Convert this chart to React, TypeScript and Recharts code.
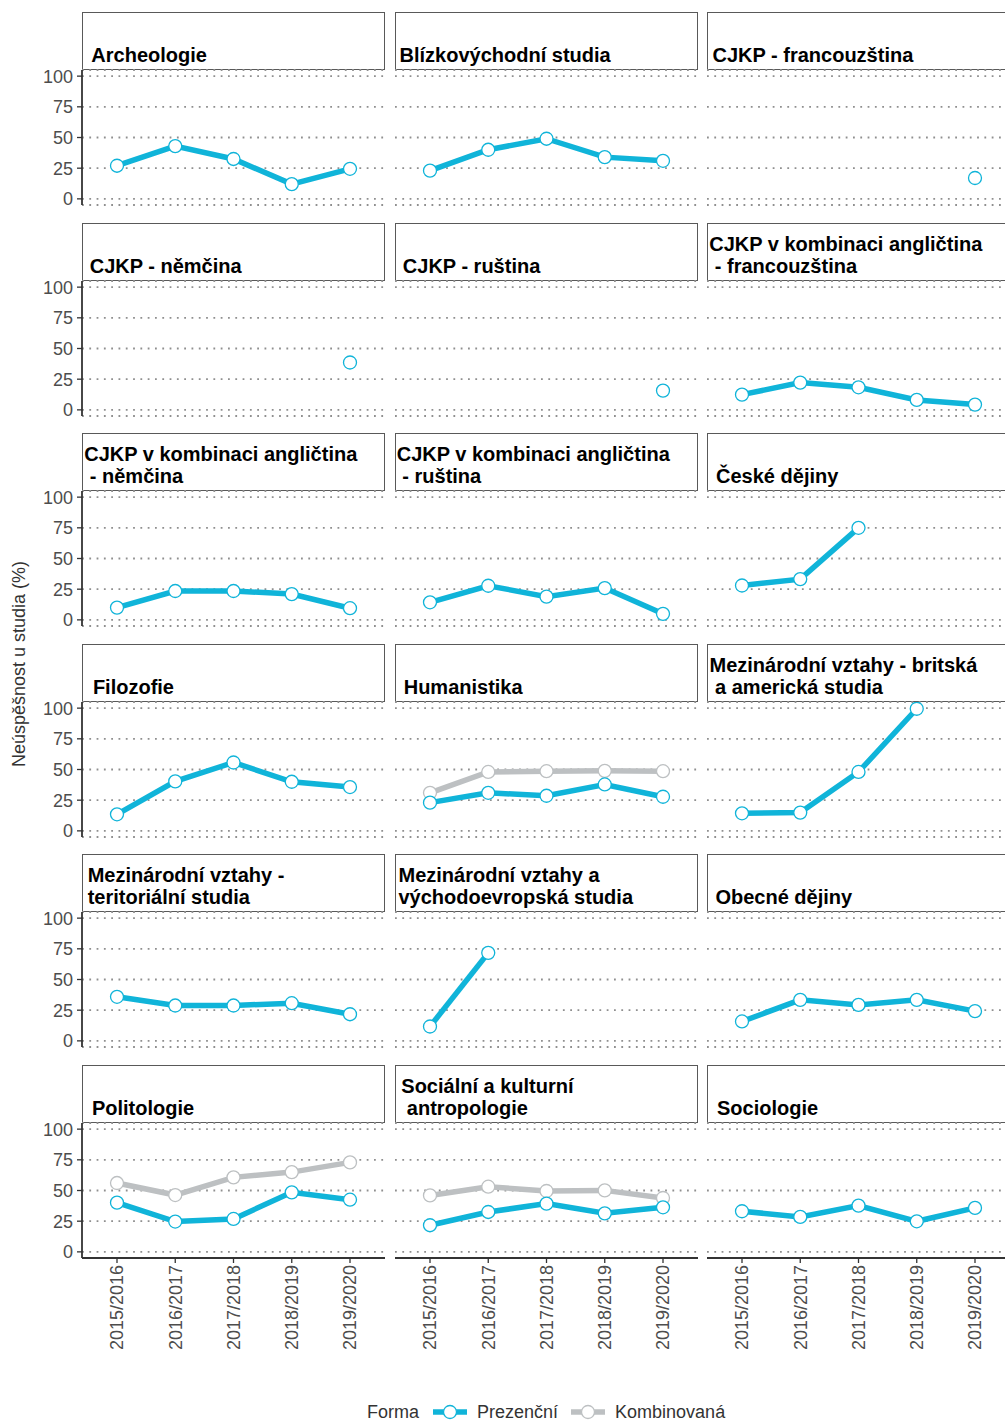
import React from 'react';
import { LineChart, Line, XAxis, YAxis, CartesianGrid } from 'recharts';

const years = ['2015/2016', '2016/2017', '2017/2018', '2018/2019', '2019/2020'];
const yTicks = [0, 25, 50, 75, 100];

type V = number | null;

const archeologie: V[] = [27, 43, 32.5, 12, 24.5];
const blizkovychodni: V[] = [23, 40, 49, 34, 31];
const cjkpFrancouzstina: V[] = [null, null, null, null, 17];
const cjkpNemcina: V[] = [null, null, null, null, 38.6];
const cjkpRustina: V[] = [null, null, null, null, 15.7];
const kombAnglFranc: V[] = [12.4, 22.2, 18.4, 8.1, 4.3];
const kombAnglNem: V[] = [10, 23.5, 23.5, 21, 9.5];
const kombAnglRus: V[] = [14.3, 27.8, 18.9, 25.9, 4.9];
const ceskeDejiny: V[] = [28, 33.2, 75, null, null];
const filozofie: V[] = [13.5, 40.3, 55.7, 40, 35.7];
const humanistikaPrez: V[] = [23, 31, 28.6, 37.8, 27.8];
const humanistikaKomb: V[] = [31, 48, 48.6, 48.9, 48.6];
const mvBritska: V[] = [14.3, 14.9, 48, 99.5, null];
const mvTeritorialni: V[] = [35.9, 28.8, 28.8, 30.7, 21.7];
const mvVychodoevropska: V[] = [11.7, 71.7, null, null, null];
const obecneDejiny: V[] = [15.8, 33.4, 29.3, 33.4, 24.2];
const politologiePrez: V[] = [40.1, 24.7, 26.8, 48.5, 42.5];
const politologieKomb: V[] = [56.1, 46.3, 60.7, 65, 72.9];
const socialniPrez: V[] = [21.7, 32.5, 39.3, 31.4, 36.3];
const socialniKomb: V[] = [46, 53.1, 49.6, 50.1, 43.9];
const sociologie: V[] = [33.1, 28.5, 37.7, 24.9, 35.8];

const panels: { title: string; prez: V[]; komb?: V[] }[] = [
  { title: 'Archeologie', prez: archeologie },
  { title: 'Blízkovýchodní studia', prez: blizkovychodni },
  { title: 'CJKP - francouzština', prez: cjkpFrancouzstina },
  { title: 'CJKP - němčina', prez: cjkpNemcina },
  { title: 'CJKP - ruština', prez: cjkpRustina },
  { title: 'CJKP v kombinaci angličtina\n - francouzština', prez: kombAnglFranc },
  { title: 'CJKP v kombinaci angličtina\n - němčina', prez: kombAnglNem },
  { title: 'CJKP v kombinaci angličtina\n - ruština', prez: kombAnglRus },
  { title: 'České dějiny', prez: ceskeDejiny },
  { title: 'Filozofie', prez: filozofie },
  { title: 'Humanistika', prez: humanistikaPrez, komb: humanistikaKomb },
  { title: 'Mezinárodní vztahy - britská\n a americká studia', prez: mvBritska },
  { title: 'Mezinárodní vztahy -\nteritoriální studia', prez: mvTeritorialni },
  { title: 'Mezinárodní vztahy a\nvýchodoevropská studia', prez: mvVychodoevropska },
  { title: 'Obecné dějiny', prez: obecneDejiny },
  { title: 'Politologie', prez: politologiePrez, komb: politologieKomb },
  { title: 'Sociální a kulturní\n antropologie', prez: socialniPrez, komb: socialniKomb },
  { title: 'Sociologie', prez: sociologie },
];

const BLUE = '#10B4D9';
const GREY = '#BDC0C2';
const FONT = '"Liberation Sans", Arial, Helvetica, sans-serif';

const COL_X = [82, 394.5, 707];
const PANEL_W = 303;
const PLOT_H = 135;
const ROW_STEP = 210.6;
const FIRST_TOP = 70;
const STRIP_H = 58;
const Y_AXIS_W = 82;
const X_AXIS_H = 110;
const PAD_V = 12; // room above/below the plot so tick labels are not clipped

const YearTick = (props: any) => {
  const { x, y, payload } = props;
  return (
    <g transform={`translate(${x},${y})`}>
      <text x={0} y={0} dy="0.35em" textAnchor="end" transform="rotate(-90)" fill="#4D4D4D" fontSize={18}>
        {payload.value}
      </text>
    </g>
  );
};

const Strip = ({ title, left, top }: { title: string; left: number; top: number }) => (
  <div
    style={{
      position: 'absolute', left, top, width: PANEL_W, height: STRIP_H, boxSizing: 'border-box',
      border: '1px solid #595959', background: '#fff', display: 'flex', alignItems: 'flex-end',
      paddingBottom: 3,
    }}
  >
    <div style={{ flex: '0.045 0 0' }} />
    <div style={{ flex: 'none', whiteSpace: 'pre', fontWeight: 700, fontSize: 20, lineHeight: '22px', color: '#000' }}>
      {title}
    </div>
    <div style={{ flex: '0.955 0 0' }} />
  </div>
);

const Panel = ({ idx }: { idx: number }) => {
  const p = panels[idx];
  const col = idx % 3;
  const row = Math.floor(idx / 3);
  const isLeft = col === 0;
  const isBottom = row === 5;
  const top = FIRST_TOP + row * ROW_STEP;
  const data = years.map((year, i) => ({ year, prez: p.prez[i], komb: p.komb ? p.komb[i] : null }));
  const w = PANEL_W + (isLeft ? Y_AXIS_W : 0);
  const h = PLOT_H + PAD_V + (isBottom ? X_AXIS_H : PAD_V);
  return (
    <>
      <Strip title={p.title} left={COL_X[col]} top={top - STRIP_H} />
      <div style={{ position: 'absolute', left: COL_X[col] - (isLeft ? Y_AXIS_W : 0), top: top - PAD_V }}>
        <LineChart
          width={w}
          height={h}
          data={data}
          margin={{ top: PAD_V, right: 0, bottom: isBottom ? 0 : PAD_V, left: 0 }}
        >
          <CartesianGrid vertical={false} stroke="#8F8F8F" strokeWidth={1.8} strokeDasharray="1.8 5.5" />
          <XAxis
            dataKey="year"
            hide={!isBottom}
            height={X_AXIS_H}
            padding={{ left: 35, right: 35 }}
            axisLine={{ stroke: '#333', strokeWidth: 1.8 }}
            tickLine={{ stroke: '#333', strokeWidth: 1.3 }}
            tickSize={5}
            tickMargin={2}
            interval={0}
            tick={<YearTick />}
          />
          <YAxis
            type="number"
            domain={[-5, 105]}
            ticks={yTicks}
            interval={0}
            hide={!isLeft}
            width={Y_AXIS_W}
            allowDataOverflow
            axisLine={{ stroke: '#333', strokeWidth: 1.8 }}
            tickLine={{ stroke: '#333', strokeWidth: 1.3 }}
            tickSize={5}
            tickMargin={4}
            tick={{ fill: '#4D4D4D', fontSize: 18 }}
          />
          {p.komb && (
            <Line
              dataKey="komb"
              stroke={GREY}
              strokeWidth={5.5}
              dot={{ r: 6.5, fill: '#fff', stroke: GREY, strokeWidth: 1.3 }}
              isAnimationActive={false}
            />
          )}
          <Line
            dataKey="prez"
            stroke={BLUE}
            strokeWidth={5.5}
            dot={{ r: 6.5, fill: '#fff', stroke: BLUE, strokeWidth: 1.3 }}
            isAnimationActive={false}
          />
        </LineChart>
      </div>
    </>
  );
};

const LegendKey = ({ color }: { color: string }) => (
  <svg width={34} height={16} style={{ display: 'block' }}>
    <line x1={0} y1={8} x2={34} y2={8} stroke={color} strokeWidth={5.5} />
    <circle cx={17} cy={8} r={6.5} fill="#fff" stroke={color} strokeWidth={1.3} />
  </svg>
);

export default function App() {
  return (
    <div
      style={{
        position: 'absolute', left: 0, top: 0, width: 1005, height: 1421, overflow: 'hidden',
        background: '#fff', fontFamily: FONT,
      }}
    >
      {panels.map((_, i) => (
        <Panel key={i} idx={i} />
      ))}

      {/* y axis title */}
      <div
        style={{
          position: 'absolute', left: 19, top: 664, transform: 'translate(-50%, -50%) rotate(-90deg)',
          whiteSpace: 'nowrap', fontSize: 18, color: '#333',
        }}
      >
        Neúspěšnost u studia (%)
      </div>

      {/* legend */}
      <div
        style={{
          position: 'absolute', left: 367, top: 1401, display: 'flex', alignItems: 'center',
          fontSize: 18, color: '#333', lineHeight: '22px',
        }}
      >
        <span>Forma</span>
        <span style={{ width: 14 }} />
        <LegendKey color={BLUE} />
        <span style={{ width: 10 }} />
        <span>Prezenční</span>
        <span style={{ width: 13 }} />
        <LegendKey color={GREY} />
        <span style={{ width: 10 }} />
        <span>Kombinovaná</span>
      </div>
    </div>
  );
}
